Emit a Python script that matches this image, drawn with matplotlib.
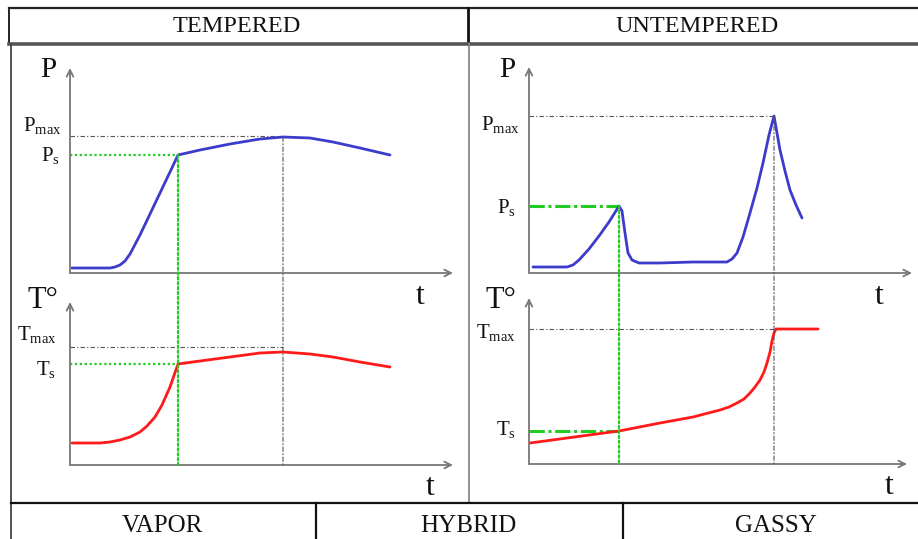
import matplotlib.pyplot as plt
from matplotlib.patches import ConnectionPatch

plt.rcParams['font.family'] = ['Liberation Serif', 'DejaVu Serif']
plt.rcParams['mathtext.fontset'] = 'custom'
plt.rcParams['mathtext.rm'] = 'Liberation Serif'
plt.rcParams['mathtext.it'] = 'Liberation Serif:italic'

# ---- data (arbitrary units) ----
headers = ['TEMPERED', 'UNTEMPERED']
footers = ['VAPOR', 'HYBRID', 'GASSY']

# tempered: pressure and temperature vs time
t_temp_p = [2, 40, 45, 50, 55, 60, 70, 80, 90, 100, 108,
            130, 160, 190, 213, 240, 263, 290, 320]
p_temp = [5, 5, 6, 8, 12, 19, 38, 59, 80, 101, 118,
          123, 129, 134, 136, 135, 131, 125, 118]
t_temp_T = [2, 30, 40, 50, 60, 70, 77, 85, 92, 100, 108,
            130, 160, 190, 213, 240, 263, 290, 320]
T_temp = [22, 22, 23, 25, 28, 33, 39, 48, 60, 78, 101,
          104, 108, 112, 113, 111, 108, 103, 98]
temp_ts, temp_ps, temp_Ts = 108, 118, 101
temp_tmax, temp_pmax, temp_Tmax = 213, 136, 118

# untempered: pressure and temperature vs time
t_unt_p = [4, 38, 44, 50, 60, 70, 80, 90, 93, 96, 99, 103, 110, 131, 164, 198,
           203, 208, 214, 221, 228, 234, 240, 245, 248, 251, 256, 261, 267, 273]
p_unt = [6, 6, 8, 13, 24, 37, 51, 67, 62, 40, 20, 13, 10, 10, 11, 11,
         14, 20, 36, 60, 85, 110, 138, 157, 140, 123, 102, 83, 68, 55]
t_unt_T = [1, 90, 131, 164, 191, 200, 208, 215, 221, 226, 231, 235, 238,
           241, 243, 245, 247, 289]
T_unt = [21, 33, 41, 47, 54, 57, 61, 65, 71, 77, 84, 92, 101,
         112, 123, 131, 135, 135]
unt_ts, unt_ps, unt_Ts = 90, 67, 33
unt_tmax, unt_pmax, unt_Tmax = 245, 157, 135

W, H = 918, 539
fig = plt.figure(figsize=(W / 100, H / 100), dpi=100)
bg = fig.add_axes([0, 0, 1, 1])
bg.set_xlim(0, W)
bg.set_ylim(H, 0)
bg.axis('off')

# table frame
bg.plot([9, W], [8, 8], color='#222', lw=1.6)
bg.plot([9, 9], [8, 44], color='#222', lw=1.4)
bg.plot([468, 468], [8, 44], color='#111', lw=2)
bg.plot([9, W], [44, 44], color='#555', lw=2.6)
bg.plot([11, 11], [44, H], color='#444', lw=1.3)
bg.plot([469, 469], [44, 503], color='#888', lw=1.3)
bg.plot([11, W], [503, 503], color='#111', lw=1.6)
bg.plot([316, 316], [503, H], color='#111', lw=1.6)
bg.plot([623, 623], [503, H], color='#111', lw=1.6)

for x, s in zip([237, 697], headers):
    bg.text(x, 26, s, ha='center', va='center', fontsize=17.5, color='#111')
for x, s in zip([162, 468, 776], footers):
    bg.text(x, 526, s, ha='center', va='center', fontsize=18, color='#111')


def px_axes(x0, y0, w, h):
    ax = fig.add_axes([x0 / W, 1 - y0 / H, w / W, h / H])
    ax.set_xlim(0, w)
    ax.set_ylim(0, h)
    ax.axis('off')
    arrow = dict(arrowstyle='->', color='#777', lw=1.3, shrinkA=0, shrinkB=0,
                 mutation_scale=12)
    ax.annotate('', xy=(1, 0), xytext=(0, 0), xycoords='axes fraction', arrowprops=arrow)
    ax.annotate('', xy=(0, 1), xytext=(0, 0), xycoords='axes fraction', arrowprops=arrow)
    return ax


gray = dict(color='#555', lw=0.8, linestyle=(0, (4, 2, 1, 2)))
green_dot = dict(color='#22cc22', lw=1.6, linestyle=(0, (1, 1.2)))
green_dd = dict(color='#22cc22', lw=2.2, linestyle=(0, (5, 1.2, 1, 1.2)))
curve = dict(lw=2, solid_capstyle='round', solid_joinstyle='round')

# ---- tempered (left) ----
axp = px_axes(70, 273, 383, 205)
axT = px_axes(70, 465, 383, 163)
axp.plot([0, temp_tmax], [temp_pmax + 1, temp_pmax + 1], **gray)
axp.plot([0, temp_ts], [temp_ps, temp_ps], **green_dot)
axp.plot(t_temp_p, p_temp, color='#3c3ccc', **curve)
axT.plot([0, temp_tmax], [temp_Tmax, temp_Tmax], **gray)
axT.plot([0, temp_ts], [temp_Ts, temp_Ts], **green_dot)
axT.plot(t_temp_T, T_temp, color='#ff1a1a', **curve)
fig.add_artist(ConnectionPatch((temp_ts, temp_ps), (temp_ts, 0), 'data', 'data',
                               axesA=axp, axesB=axT, **green_dot))
fig.add_artist(ConnectionPatch((temp_tmax, temp_pmax), (temp_tmax, 0), 'data', 'data',
                               axesA=axp, axesB=axT, **gray))

# ---- untempered (right) ----
axp2 = px_axes(529, 273, 383, 206)
axT2 = px_axes(529, 464, 378, 166)
axp2.plot([0, unt_tmax], [unt_pmax, unt_pmax], **gray)
axp2.plot([0, unt_ts], [unt_ps, unt_ps], **green_dd)
axp2.plot(t_unt_p, p_unt, color='#3c3ccc', **curve)
axT2.plot([0, unt_tmax], [unt_Tmax, unt_Tmax], **gray)
axT2.plot([0, unt_ts], [unt_Ts, unt_Ts], **green_dd)
axT2.plot(t_unt_T, T_unt, color='#ff1a1a', **curve)
fig.add_artist(ConnectionPatch((unt_ts, unt_ps), (unt_ts, 0), 'data', 'data',
                               axesA=axp2, axesB=axT2, **green_dot))
fig.add_artist(ConnectionPatch((unt_tmax, unt_pmax), (unt_tmax, 0), 'data', 'data',
                               axesA=axp2, axesB=axT2, **gray))

# ---- axis labels ----
lab = dict(color='#111', va='baseline', ha='left')
bg.text(40, 77, 'P', fontsize=21, **lab)
bg.text(23, 131, r'$\mathrm{P}_{\mathrm{max}}$', fontsize=15, **lab)
bg.text(41, 161, r'$\mathrm{P}_{\mathrm{s}}$', fontsize=15, **lab)
bg.text(416, 304, 't', fontsize=23, **lab)
bg.text(28, 308, 'T°', fontsize=22, **lab)
bg.text(17, 340, r'$\mathrm{T}_{\mathrm{max}}$', fontsize=15, **lab)
bg.text(36, 375, r'$\mathrm{T}_{\mathrm{s}}$', fontsize=15, **lab)
bg.text(426, 495, 't', fontsize=23, **lab)

bg.text(499, 77, 'P', fontsize=21, **lab)
bg.text(481, 130, r'$\mathrm{P}_{\mathrm{max}}$', fontsize=15, **lab)
bg.text(497, 213, r'$\mathrm{P}_{\mathrm{s}}$', fontsize=15, **lab)
bg.text(875, 304, 't', fontsize=23, **lab)
bg.text(486, 308, 'T°', fontsize=22, **lab)
bg.text(476, 338, r'$\mathrm{T}_{\mathrm{max}}$', fontsize=15, **lab)
bg.text(496, 435, r'$\mathrm{T}_{\mathrm{s}}$', fontsize=15, **lab)
bg.text(885, 494, 't', fontsize=23, **lab)

fig.savefig('out.png', dpi=100)
